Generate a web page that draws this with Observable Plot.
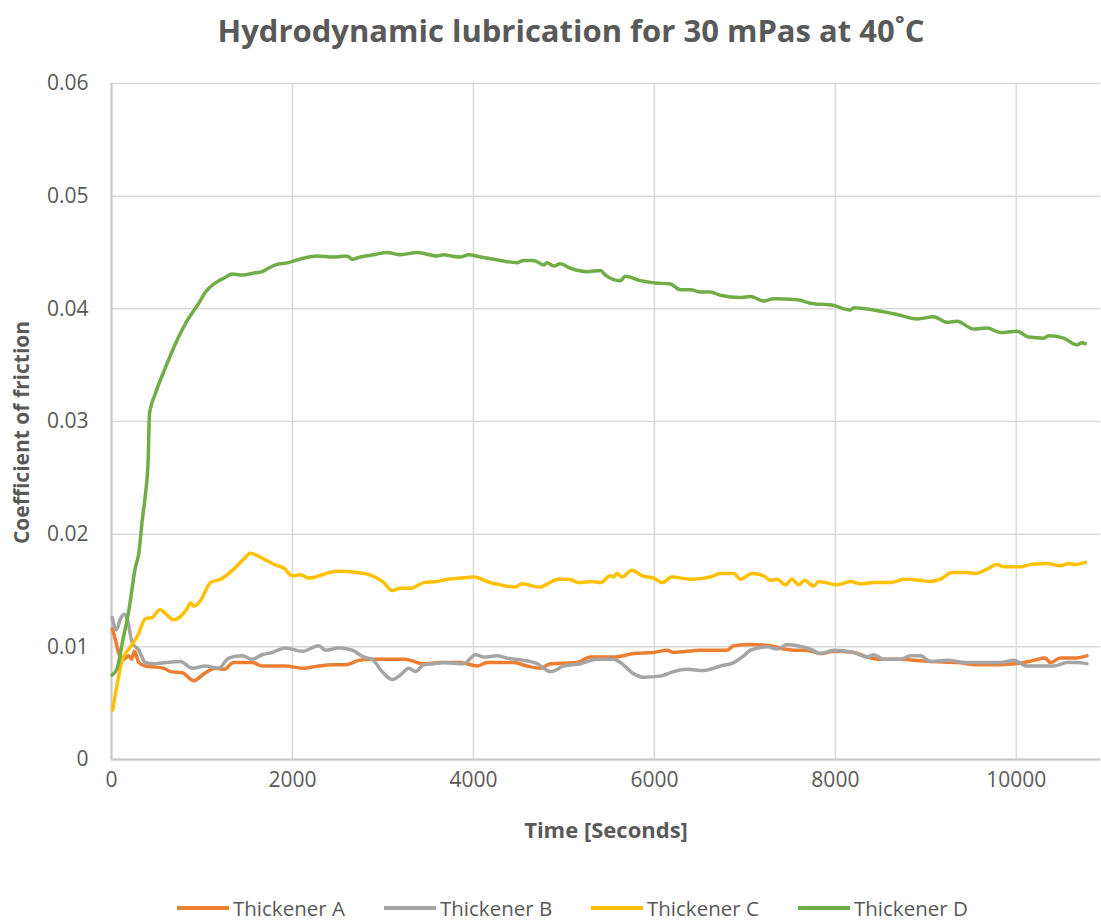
<!DOCTYPE html>
<html><head><meta charset="utf-8">
<script src="https://cdn.jsdelivr.net/npm/d3@7"></script>
<script src="https://cdn.jsdelivr.net/npm/@observablehq/plot@0.6"></script>
<style>
body{margin:0;background:#fff;font-family:"Open Sans",sans-serif;}
#wrap{width:1101px;height:921px;position:relative;overflow:hidden;}
#title{position:absolute;top:12px;left:0;width:1142px;text-align:center;font-weight:700;font-size:31px;color:#595959;line-height:36px;}
#chart{position:absolute;top:60px;left:0;}
#legend{position:absolute;top:895px;left:177px;display:flex;}
.item{display:flex;align-items:center;width:207px;font-size:20.5px;color:#595959;line-height:26px;}
.sw{width:52px;height:4px;margin-right:4px;}
</style></head>
<body><div id="wrap"><div id="title"></div><div id="chart"></div><div id="legend"></div></div>
<script>
const titleText = "Hydrodynamic lubrication for 30 mPas at 40˚C";
const xLabel = "Time [Seconds]";
const yLabel = "Coefficient of friction";
const seriesNames = ["Thickener A", "Thickener B", "Thickener C", "Thickener D"];
const seriesColors = ["#ED7D31", "#A5A5A5", "#FFC000", "#70AD47"];
const xTicks = [0, 2000, 4000, 6000, 8000, 10000];
const yTicks = [0, 0.01, 0.02, 0.03, 0.04, 0.05, 0.06];

const thickenerA = [[8,0.0116],[44,0.0106],[81,0.0094],[136,0.0089],[191,0.0092],[221,0.0089],[254,0.0096],[302,0.0086],[376,0.0083],[486,0.0082],[578,0.0081],[652,0.0078],[781,0.0077],[910,0.0070],[1020,0.0076],[1149,0.0081],[1241,0.0080],[1351,0.0086],[1481,0.0086],[1555,0.0086],[1665,0.0083],[1923,0.0083],[2107,0.0081],[2291,0.0083],[2438,0.0084],[2586,0.0084],[2733,0.0088],[2880,0.0089],[3064,0.0089],[3249,0.0089],[3304,0.0088],[3451,0.0085],[3635,0.0086],[3856,0.0086],[4041,0.0083],[4151,0.0086],[4446,0.0086],[4593,0.0083],[4740,0.0081],[4851,0.0085],[5146,0.0086],[5293,0.0091],[5550,0.0091],[5771,0.0094],[5992,0.0095],[6140,0.0097],[6213,0.0095],[6508,0.0097],[6803,0.0097],[6877,0.0101],[7061,0.0102],[7282,0.0101],[7429,0.0098],[7540,0.0097],[7687,0.0097],[7834,0.0094],[7981,0.0096],[8203,0.0095],[8350,0.0091],[8497,0.0089],[8718,0.0089],[8866,0.0088],[9086,0.0087],[9345,0.0086],[9602,0.0084],[9823,0.0084],[9970,0.0085],[10081,0.0086],[10191,0.0088],[10320,0.0090],[10376,0.0086],[10486,0.0090],[10634,0.0090],[10780,0.0092]];

const thickenerB = [[8,0.0126],[55,0.0115],[99,0.0125],[144,0.0129],[173,0.0125],[228,0.0104],[302,0.0097],[376,0.0086],[486,0.0085],[597,0.0086],[762,0.0087],[891,0.0081],[1039,0.0083],[1186,0.0081],[1296,0.0090],[1444,0.0092],[1555,0.0089],[1665,0.0093],[1776,0.0095],[1923,0.0099],[2107,0.0096],[2291,0.0101],[2365,0.0097],[2512,0.0099],[2659,0.0097],[2788,0.0091],[2880,0.0089],[2991,0.0078],[3101,0.0071],[3193,0.0075],[3285,0.0081],[3359,0.0078],[3451,0.0084],[3562,0.0085],[3672,0.0086],[3893,0.0085],[4022,0.0093],[4114,0.0091],[4262,0.0092],[4372,0.0090],[4556,0.0088],[4704,0.0085],[4851,0.0078],[4998,0.0083],[5182,0.0085],[5367,0.0089],[5550,0.0089],[5624,0.0086],[5771,0.0076],[5882,0.0073],[6066,0.0074],[6213,0.0078],[6361,0.0080],[6545,0.0079],[6729,0.0083],[6877,0.0086],[6987,0.0092],[7061,0.0097],[7245,0.0100],[7356,0.0098],[7466,0.0102],[7577,0.0101],[7724,0.0098],[7834,0.0094],[7981,0.0097],[8203,0.0095],[8350,0.0091],[8424,0.0093],[8534,0.0089],[8718,0.0089],[8829,0.0092],[8939,0.0092],[9050,0.0087],[9234,0.0088],[9455,0.0086],[9639,0.0086],[9823,0.0086],[9970,0.0088],[10118,0.0083],[10265,0.0083],[10412,0.0083],[10560,0.0086],[10671,0.0086],[10780,0.0085]];

const thickenerC = [[14,0.0044],[63,0.0067],[118,0.0088],[210,0.0100],[284,0.0109],[376,0.0125],[450,0.0126],[534,0.0133],[689,0.0124],[836,0.0134],[873,0.0139],[910,0.0136],[983,0.0141],[1094,0.0157],[1204,0.0160],[1351,0.0169],[1462,0.0178],[1536,0.0183],[1610,0.0181],[1683,0.0178],[1831,0.0172],[1904,0.0170],[1997,0.0163],[2088,0.0164],[2180,0.0161],[2254,0.0162],[2328,0.0164],[2494,0.0167],[2715,0.0166],[2807,0.0165],[3009,0.0157],[3101,0.0150],[3193,0.0152],[3304,0.0152],[3451,0.0157],[3599,0.0158],[3709,0.0160],[3856,0.0161],[4004,0.0162],[4188,0.0157],[4298,0.0155],[4464,0.0153],[4538,0.0156],[4722,0.0153],[4943,0.0160],[5053,0.0160],[5164,0.0157],[5311,0.0158],[5403,0.0157],[5514,0.0163],[5550,0.0162],[5587,0.0165],[5643,0.0162],[5753,0.0168],[5864,0.0163],[5992,0.0161],[6085,0.0157],[6195,0.0162],[6398,0.0160],[6619,0.0162],[6729,0.0165],[6877,0.0165],[6950,0.0160],[7080,0.0165],[7208,0.0163],[7282,0.0159],[7356,0.0160],[7448,0.0155],[7522,0.0160],[7595,0.0155],[7658,0.0159],[7760,0.0154],[7816,0.0158],[8019,0.0155],[8166,0.0158],[8276,0.0156],[8424,0.0157],[8608,0.0157],[8755,0.0160],[8939,0.0159],[9050,0.0158],[9160,0.0160],[9289,0.0166],[9455,0.0166],[9547,0.0165],[9676,0.0169],[9787,0.0173],[9860,0.0171],[10044,0.0171],[10155,0.0173],[10339,0.0174],[10486,0.0172],[10578,0.0174],[10634,0.0173],[10762,0.0175]];

const thickenerD = [[8,0.0075],[63,0.0081],[118,0.0103],[191,0.0132],[265,0.0171],[302,0.0183],[339,0.0212],[376,0.0236],[405,0.0266],[420,0.0307],[486,0.0325],[597,0.0348],[707,0.0369],[818,0.0387],[965,0.0405],[1039,0.0415],[1149,0.0423],[1260,0.0428],[1334,0.0431],[1444,0.0430],[1591,0.0432],[1665,0.0433],[1735,0.0436],[1812,0.0439],[1956,0.0441],[2015,0.04425],[2273,0.0447],[2455,0.0446],[2604,0.0447],[2659,0.0444],[2751,0.0446],[2898,0.0448],[3046,0.0450],[3193,0.0448],[3378,0.0450],[3599,0.0447],[3672,0.0448],[3746,0.0447],[3856,0.0446],[3948,0.0448],[4077,0.0446],[4224,0.0444],[4483,0.0441],[4556,0.0443],[4666,0.0443],[4777,0.0439],[4814,0.0441],[4887,0.0438],[4961,0.0440],[5072,0.0436],[5256,0.0433],[5403,0.0434],[5459,0.0430],[5624,0.0425],[5680,0.0429],[5845,0.0425],[6011,0.0423],[6177,0.0422],[6287,0.0417],[6398,0.0417],[6508,0.0415],[6619,0.0415],[6729,0.0412],[6950,0.0410],[7061,0.0411],[7208,0.0407],[7319,0.0409],[7577,0.0408],[7724,0.0405],[7981,0.0403],[8092,0.0400],[8166,0.0399],[8203,0.0401],[8424,0.0399],[8682,0.0395],[8903,0.0391],[9086,0.0393],[9234,0.0388],[9345,0.0389],[9528,0.0382],[9676,0.0383],[9823,0.0379],[10008,0.0380],[10136,0.0375],[10302,0.0374],[10358,0.0376],[10523,0.0374],[10671,0.0368],[10726,0.0370],[10762,0.0369]];

const seriesData = [thickenerA, thickenerB, thickenerC, thickenerD];
const rows = seriesData.flatMap((arr, i) => arr.map(([t, v]) => ({series: seriesNames[i], t, v})));

document.getElementById("title").textContent = titleText;

const chart = Plot.plot({
  width: 1101,
  height: 800,
  marginTop: 23,
  marginLeft: 111,
  marginRight: 1,
  marginBottom: 101,
  style: {fontFamily: "'Open Sans', sans-serif", fontSize: "21px", color: "#595959", background: "#fff"},
  x: {domain: [0, 10930]},
  y: {domain: [0, 0.06]},
  color: {domain: seriesNames, range: seriesColors},
  marks: [
    Plot.gridX(xTicks, {stroke: "#d9d9d9", strokeOpacity: 1, strokeWidth: 1.5}),
    Plot.gridY(yTicks, {stroke: "#d9d9d9", strokeOpacity: 1, strokeWidth: 1.5}),
    Plot.ruleY([0], {stroke: "#c6c6c6", strokeWidth: 2}),
    Plot.ruleX([0], {stroke: "#c6c6c6", strokeWidth: 2}),
    Plot.axisX({ticks: xTicks, tickSize: 0, tickPadding: 13, label: null, tickFormat: d => String(d)}),
    Plot.axisY({ticks: yTicks, tickSize: 0, tickPadding: 23, label: null, tickFormat: d => d === 0 ? "0" : d.toFixed(2)}),
    Plot.line(rows, {x: "t", y: "v", z: "series", stroke: "series", strokeWidth: 3.5, curve: "monotone-x", strokeLinejoin: "round", strokeLinecap: "round"}),
    Plot.text([xLabel], {frameAnchor: "bottom", dy: 71, textAnchor: "middle", lineAnchor: "middle", fontWeight: "bold", fontSize: 22, fill: "#595959"}),
    Plot.text([yLabel], {frameAnchor: "left", dx: -89, dy: 11, rotate: -90, textAnchor: "middle", lineAnchor: "middle", fontWeight: "bold", fontSize: 21, fill: "#595959"})
  ]
});
document.getElementById("chart").appendChild(chart);

const legend = document.getElementById("legend");
seriesNames.forEach((name, i) => {
  const item = document.createElement("div");
  item.className = "item";
  const sw = document.createElement("span");
  sw.className = "sw";
  sw.style.background = seriesColors[i];
  const lab = document.createElement("span");
  lab.textContent = name;
  item.appendChild(sw);
  item.appendChild(lab);
  legend.appendChild(item);
});
</script></body></html>
